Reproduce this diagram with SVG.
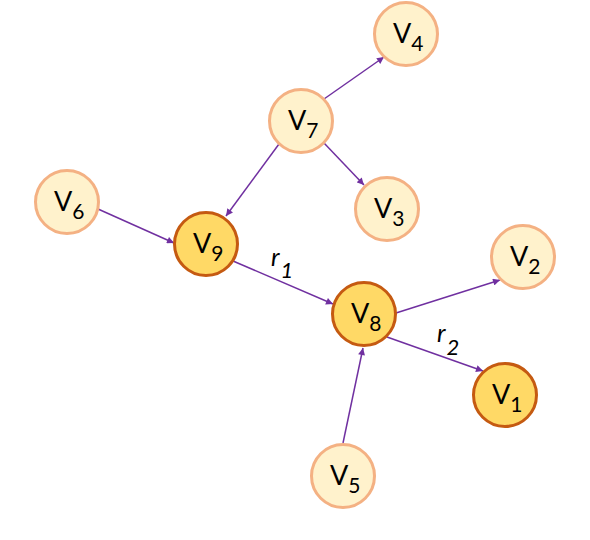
<svg xmlns="http://www.w3.org/2000/svg" width="590" height="540" viewBox="0 0 590 540">
<defs>
<marker id="arr" viewBox="0 0 10 10" refX="10" refY="5" markerWidth="8" markerHeight="7" markerUnits="userSpaceOnUse" orient="auto">
<path d="M0,0 L10,5 L0,10 Z" fill="#7030A0"/>
</marker>
<style>
.light{fill:#FFF2CC;stroke:#F4B183;stroke-width:3}
.dark{fill:#FFD966;stroke:#C55A11;stroke-width:3}
.lbl{font-family:Lato,"Liberation Sans",sans-serif;font-size:27px;fill:#000}
.sub{font-size:21px}
.edge{stroke:#7030A0;stroke-width:1.5;fill:none;marker-end:url(#arr)}
.rel{font-family:Lato,"Liberation Sans",sans-serif;font-style:italic;fill:#000;font-size:25px}
.rsub{font-size:22px}
</style>
</defs>
<rect width="590" height="540" fill="#fff"/>
<g id="connectors">
<line class="edge" x1="324" y1="99" x2="384" y2="57"/>
<line class="edge" x1="324" y1="143" x2="364" y2="185"/>
<line class="edge" x1="279" y1="144" x2="226" y2="216"/>
<line class="edge" x1="98" y1="209" x2="174" y2="243"/>
<line class="edge" x1="233" y1="261" x2="333" y2="304"/>
<line class="edge" x1="396" y1="313" x2="500" y2="280"/>
<line class="edge" x1="387" y1="337" x2="483" y2="371"/>
<line class="edge" x1="343" y1="443" x2="363" y2="348"/>
<text class="rel" x="271" y="266">r<tspan class="rsub" dx="1" dy="12">1</tspan></text>
<text class="rel" x="437" y="342">r<tspan class="rsub" dx="1" dy="13">2</tspan></text>
</g>
<g id="v4"><circle class="light" cx="406" cy="34" r="31.5"/><text class="lbl" x="393" y="43">V<tspan class="sub" dy="8">4</tspan></text></g>
<g id="v7"><circle class="light" cx="301" cy="121" r="31.5"/><text class="lbl" x="288" y="130">V<tspan class="sub" dy="8">7</tspan></text></g>
<g id="v3"><circle class="light" cx="387" cy="209" r="31.5"/><text class="lbl" x="374" y="218">V<tspan class="sub" dy="8">3</tspan></text></g>
<g id="v6"><circle class="light" cx="67" cy="202" r="31.5"/><text class="lbl" x="54" y="211">V<tspan class="sub" dy="8">6</tspan></text></g>
<g id="v9"><circle class="dark" cx="206" cy="244" r="31.5"/><text class="lbl" x="193" y="253">V<tspan class="sub" dy="8">9</tspan></text></g>
<g id="v8"><circle class="dark" cx="364" cy="314" r="31.5"/><text class="lbl" x="351" y="323">V<tspan class="sub" dy="8">8</tspan></text></g>
<g id="v2"><circle class="light" cx="523" cy="257" r="31.5"/><text class="lbl" x="510" y="266">V<tspan class="sub" dy="8">2</tspan></text></g>
<g id="v1"><circle class="dark" cx="505" cy="395" r="31.5"/><text class="lbl" x="492" y="404">V<tspan class="sub" dy="8">1</tspan></text></g>
<g id="v5"><circle class="light" cx="343" cy="476" r="31.5"/><text class="lbl" x="330" y="485">V<tspan class="sub" dy="8">5</tspan></text></g>
</svg>
